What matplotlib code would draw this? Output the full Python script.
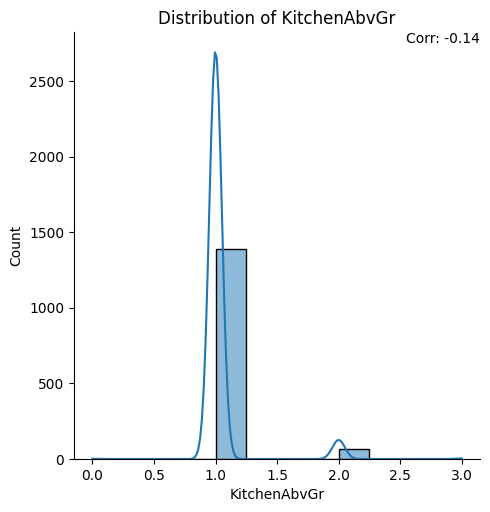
import numpy as np
import pandas as pd
import matplotlib
matplotlib.use("Agg")
import matplotlib.pyplot as plt
import seaborn as sns

# KitchenAbvGr values and their counts
values = [0, 1, 2, 3]
counts = [1, 1392, 65, 2]
corr_text = "Corr: -0.14"

data = pd.DataFrame({"KitchenAbvGr": np.repeat(values, counts)})

fig = plt.figure(figsize=(4.9, 5.12), dpi=100)
ax = fig.add_axes([0.151, 0.1035, 0.829, 0.834])
sns.histplot(data=data, x="KitchenAbvGr", kde=True, bins=12, binrange=(0, 3),
             edgecolor="black", ax=ax)
sns.despine(ax=ax)
ax.set_title("Distribution of KitchenAbvGr")
ax.text(1.0, 1.0, corr_text, transform=ax.transAxes, ha="right", va="top")
fig.savefig("out.png", dpi=100)
